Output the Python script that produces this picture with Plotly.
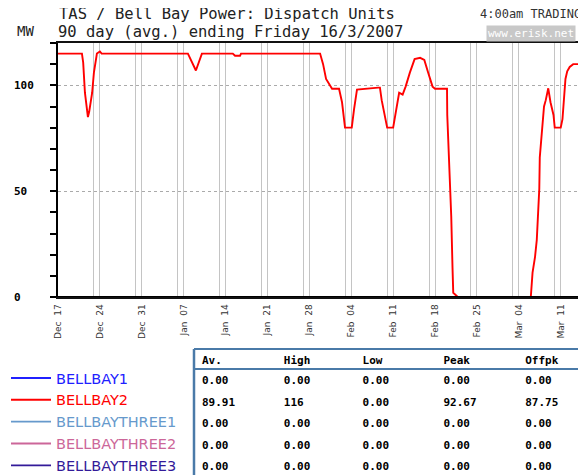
import plotly.graph_objects as go

# ---------------- data ----------------
bb2_time = [
    "2006-12-17 00:00", "2006-12-21 00:00", "2006-12-21 05:00", "2006-12-21 12:00",
    "2006-12-22 00:00", "2006-12-22 05:00", "2006-12-22 17:00", "2006-12-23 00:00",
    "2006-12-23 12:00", "2006-12-24 00:00", "2006-12-24 07:00", "2007-01-07 17:00",
    "2007-01-09 01:00", "2007-01-10 01:00", "2007-01-15 05:00", "2007-01-15 14:00",
    "2007-01-16 10:00", "2007-01-16 14:00", "2007-01-29 19:00", "2007-01-30 07:00",
    "2007-01-30 19:00", "2007-01-31 19:00", "2007-02-01 23:00", "2007-02-02 11:00",
    "2007-02-02 23:00", "2007-02-04 02:00", "2007-02-04 11:00", "2007-02-04 23:00",
    "2007-02-08 12:00", "2007-02-08 19:00", "2007-02-09 02:00", "2007-02-10 00:00",
    "2007-02-11 00:00", "2007-02-11 14:00", "2007-02-12 00:00", "2007-02-12 14:00",
    "2007-02-13 02:00", "2007-02-13 19:00", "2007-02-14 14:00", "2007-02-15 12:00",
    "2007-02-16 05:00", "2007-02-16 19:00", "2007-02-17 14:00", "2007-02-18 00:00",
    "2007-02-20 00:00", "2007-02-20 01:00", "2007-02-20 10:00", "2007-02-20 17:00",
    "2007-02-20 22:00", "2007-02-21 01:00", "2007-02-21 19:00", "2007-03-06 00:00",
    "2007-03-06 07:00", "2007-03-06 17:00", "2007-03-07 00:00", "2007-03-07 04:00",
    "2007-03-07 10:00", "2007-03-07 12:00", "2007-03-07 22:00", "2007-03-08 05:00",
    "2007-03-08 12:00", "2007-03-08 22:00", "2007-03-09 07:00", "2007-03-09 19:00",
    "2007-03-10 00:00", "2007-03-11 00:00", "2007-03-11 07:00", "2007-03-11 12:00",
    "2007-03-11 19:00", "2007-03-12 02:00", "2007-03-12 12:00", "2007-03-13 02:00",
    "2007-03-16 00:00",
]
bb2_mw = [
    115, 115, 110.7, 96.5,
    85, 87.5, 96.5, 106,
    115, 116, 115, 115,
    107, 115, 115, 114,
    114, 115, 115, 110,
    103, 98.4, 98.4, 92,
    80, 80, 88.5, 98,
    98.9, 98.9, 93, 80,
    80, 90, 96.5, 95.6,
    99.4, 106, 112.4, 113,
    112, 106.5, 99.4, 98.4,
    98.4, 86, 62.5, 38,
    14, 2, 0, 0,
    11.5, 19, 27, 38,
    51, 66, 81, 90,
    93, 98.6, 92, 86,
    80, 80, 84, 92,
    103, 106.6, 108.7, 110,
    110,
]
zero_time = ["2006-12-17 00:00", "2007-03-16 00:00"]
bb1_mw = [0, 0]
bb31_mw = [0, 0]
bb32_mw = [0, 0]
bb33_mw = [0, 0]

unit_names = ["BELLBAY1", "BELLBAY2", "BELLBAYTHREE1", "BELLBAYTHREE2", "BELLBAYTHREE3"]
unit_colors = ["#2020ff", "#ff0000", "#6699cc", "#cc6699", "#331a99"]

stat_headers = ["Av.", "High", "Low", "Peak", "Offpk"]
stat_av = ["0.00", "89.91", "0.00", "0.00", "0.00"]
stat_high = ["0.00", "116", "0.00", "0.00", "0.00"]
stat_low = ["0.00", "0.00", "0.00", "0.00", "0.00"]
stat_peak = ["0.00", "92.67", "0.00", "0.00", "0.00"]
stat_offpk = ["0.00", "87.75", "0.00", "0.00", "0.00"]

y_tickvals = [0, 50, 100]
y_ticktext = ["0\u00a0\u00a0", "50\u00a0", "100"]

title_line1 = "TAS / Bell Bay Power: Dispatch Units"
title_line2 = "90 day (avg.) ending Friday 16/3/2007"

# ---------------- figure ----------------
# The page body has an 8px default margin, so design in screen pixels and
# convert to figure coordinates.
OFF = 8
W, H = 586, 475
ML = 58 - OFF
MT = 43 - OFF
PW = W - ML
PH = H - MT  # paper height (b margin = 0)


def py(ypx):
    return (H - (ypx - OFF)) / PH


def px(xpx):
    return (xpx - OFF - ML) / PW


fig = go.Figure()
series = [
    (zero_time, bb1_mw),
    (bb2_time, bb2_mw),
    (zero_time, bb31_mw),
    (zero_time, bb32_mw),
    (zero_time, bb33_mw),
]
for (t, v), name, col in zip(series, unit_names, unit_colors):
    fig.add_trace(go.Scatter(
        x=t, y=v, mode="lines",
        line=dict(color=col, width=1.9),
        name=f"<span style='color:{col}'>{name}</span>",
        hoverinfo="skip",
    ))

mono = "DejaVu Sans Mono"

fig.add_trace(go.Table(
    domain=dict(x=[px(194), 1], y=[0, py(348)]),
    columnwidth=[82, 79, 81, 82, 76],
    header=dict(
        values=stat_headers, align="left", height=20,
        fill_color="white", line=dict(color="white", width=0),
        font=dict(family=mono, size=11, color="black", weight="bold"),
    ),
    cells=dict(
        values=[stat_av, stat_high, stat_low, stat_peak, stat_offpk],
        align="left", height=21.5,
        fill_color="white", line=dict(color="white", width=0),
        font=dict(family=mono, size=11, color="black", weight="bold"),
    ),
))

tbl_col = "#4a7aa8"
fig.add_shape(type="line", xref="paper", yref="paper",
              x0=px(194), x1=px(194), y0=0, y1=py(349), line=dict(color=tbl_col, width=2.5))
fig.add_shape(type="line", xref="paper", yref="paper",
              x0=px(194), x1=1, y0=py(349), y1=py(349), line=dict(color=tbl_col, width=2))
fig.add_shape(type="line", xref="paper", yref="paper",
              x0=px(194), x1=1, y0=py(369), y1=py(369), line=dict(color=tbl_col, width=2))
# axis baseline drawn over the zero-valued series
fig.add_shape(type="line", xref="paper", yref="y", x0=0, x1=1, y0=0, y1=0,
              layer="above", line=dict(color="black", width=2))

fig.update_layout(
    width=W, height=H,
    margin=dict(l=ML, r=0, t=MT, b=0, pad=0, autoexpand=False),
    paper_bgcolor="white", plot_bgcolor="white",
    showlegend=True,
    legend=dict(
        xref="paper", yref="paper",
        x=px(6), y=py(362), xanchor="left", yanchor="top",
        font=dict(family="DejaVu Sans", size=14.5),
        itemwidth=40, bgcolor="rgba(0,0,0,0)",
        itemclick=False, itemdoubleclick=False,
    ),
    xaxis=dict(
        type="date",
        range=["2006-12-17 00:00", "2007-03-16 13:26"],
        tick0="2006-12-17", dtick=7 * 86400000,
        tickformat="%b\u00a0\u00a0%d", tickangle=-90,
        tickfont=dict(family="DejaVu Sans", size=9, color="#333333"),
        ticks="", ticklabelstandoff=2,
        showgrid=True, gridcolor="#c4c4c4", gridwidth=1,
        minor=dict(tick0="2006-12-16", dtick=7 * 86400000, showgrid=True,
                   gridcolor="#c4c4c4", gridwidth=1, ticks=""),
        showline=True, linecolor="#111111", linewidth=1.5, mirror=True,
        zeroline=False, fixedrange=True,
    ),
    yaxis=dict(
        domain=[py(297), 1],
        range=[0, 120],
        tickvals=y_tickvals, ticktext=y_ticktext,
        tickfont=dict(family=mono, size=11, color="black", weight="bold"),
        ticks="outside", ticklen=6, tickcolor="black", tickwidth=1.5,
        ticklabelstandoff=14,
        minor=dict(dtick=10, tick0=0, ticks="outside", ticklen=6,
                   tickcolor="black", tickwidth=1.5, showgrid=False),
        showgrid=True, gridcolor="#aaaaaa", gridwidth=1, griddash="dot",
        showline=True, linecolor="black", linewidth=2,
        zeroline=False, fixedrange=True,
    ),
)

fig.add_annotation(text=title_line1, xref="paper", yref="paper",
                   x=px(57), y=py(14), xanchor="left", yanchor="middle",
                   showarrow=False, font=dict(family=mono, size=15.5, color="#222222"))
fig.add_annotation(text=title_line2, xref="paper", yref="paper",
                   x=px(56), y=py(32), xanchor="left", yanchor="middle",
                   showarrow=False, font=dict(family=mono, size=15.5, color="#222222"))
fig.add_annotation(text="MW", xref="paper", yref="paper",
                   x=px(15), y=py(31), xanchor="left", yanchor="middle",
                   showarrow=False, font=dict(family=mono, size=14, color="#222222"))
fig.add_annotation(text="4:00am TRADING", xref="paper", yref="paper",
                   x=px(478), y=py(14), xanchor="left", yanchor="middle",
                   showarrow=False, font=dict(family=mono, size=12, color="#333333"))
fig.add_annotation(text="www.erisk.net", xref="paper", yref="paper",
                   x=px(486), y=py(33), xanchor="left", yanchor="middle",
                   showarrow=False, bgcolor="#c8c8c8", borderpad=1,
                   font=dict(family=mono, size=11, color="white"))

fig.write_html("out.html")
